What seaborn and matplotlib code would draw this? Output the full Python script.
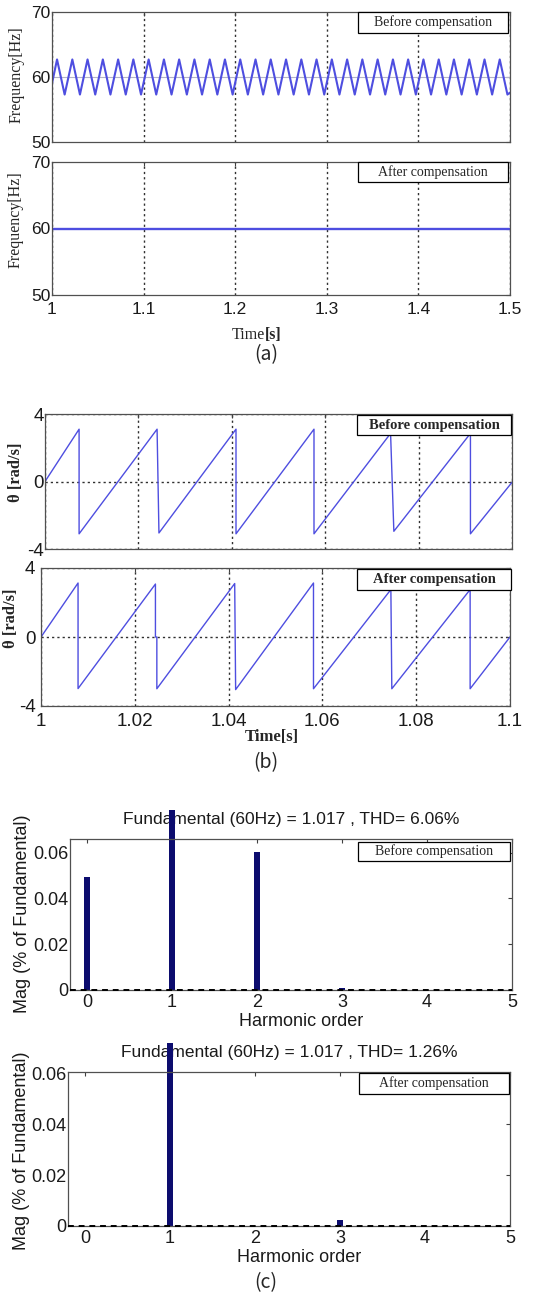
import matplotlib
matplotlib.use("Agg")
import matplotlib.pyplot as plt
import numpy as np
import seaborn as sns
from matplotlib.patches import Rectangle

# ---------------- data ----------------
# (a) frequency before compensation: times of successive maxima / minima
freq_peak_t = [1.0055, 1.0222, 1.0388, 1.0555, 1.0722, 1.0888, 1.1055, 1.1222,
               1.1388, 1.1555, 1.1722, 1.1888, 1.2055, 1.2222, 1.2388, 1.2555,
               1.2722, 1.2888, 1.3055, 1.3222, 1.3388, 1.3555, 1.3722, 1.3888,
               1.4055, 1.4222, 1.4388, 1.4555, 1.4722, 1.4888]
freq_trough_t = [1.0138, 1.0305, 1.0472, 1.0638, 1.0805, 1.0972, 1.1138, 1.1305,
                 1.1472, 1.1638, 1.1805, 1.1972, 1.2138, 1.2305, 1.2472, 1.2638,
                 1.2805, 1.2972, 1.3138, 1.3305, 1.3472, 1.3638, 1.3805, 1.3972,
                 1.4138, 1.4305, 1.4472, 1.4638, 1.4805, 1.4972]
freq_peak_hz = 62.7
freq_trough_hz = 57.3
freq_start = (1.0, 59.0)
freq_end = (1.5, 57.6)

# (a) frequency after compensation
freq_after_t = [1.0, 1.5]
freq_after_hz = [60.0, 60.0]

# (b) phase angle, vertices of the sawtooth
theta_before_t = [1.0, 1.0073, 1.0073, 1.0240, 1.0244, 1.0409, 1.0409, 1.0576,
                  1.0576, 1.0740, 1.0747, 1.0911, 1.0911, 1.1]
theta_before_v = [0.0, 3.1, -3.1, 3.1, -3.05, 3.1, -3.1, 3.1,
                  -3.1, 2.85, -2.95, 2.85, -3.1, -0.05]
theta_after_t = [1.0, 1.0079, 1.0079, 1.0244, 1.0244, 1.0247, 1.0247, 1.0413,
                 1.0415, 1.0581, 1.0581, 1.0746, 1.0748, 1.0915, 1.0915, 1.1]
theta_after_v = [0.0, 3.13, -2.99, 3.07, 0.0, 0.0, -3.0, 3.1,
                 -3.05, 3.13, -3.0, 2.75, -3.0, 2.75, -3.0, 0.0]

# (c) harmonic spectra
harm_order = [0, 1, 2, 3, 4, 5]
mag_before = [0.0494, 1.0, 0.0604, 0.0008, 0.0, 0.0]
mag_after = [0.0, 1.0, 0.0, 0.0025, 0.0, 0.0]
fund_mag = 1.017
thd_before = 6.06
thd_after = 1.26

freq_ticks = [50, 60, 70]
freq_xticks = [1.0, 1.1, 1.2, 1.3, 1.4, 1.5]
freq_xlabels = ["1", "1.1", "1.2", "1.3", "1.4", "1.5"]
theta_ticks = [-4, 0, 4]
theta_xticks = [1.0, 1.02, 1.04, 1.06, 1.08, 1.1]
theta_xlabels = ["1", "1.02", "1.04", "1.06", "1.08", "1.1"]
mag_ticks = [0, 0.02, 0.04, 0.06]
mag_labels = ["0", "0.02", "0.04", "0.06"]

# ---------------- style ----------------
sns.set_theme(style="white")
SANS = ["Liberation Sans", "DejaVu Sans"]
SERIF = ["Liberation Serif", "DejaVu Serif"]
plt.rcParams["font.family"] = SANS
plt.rcParams["axes.unicode_minus"] = False
plt.rcParams["axes.edgecolor"] = "#505050"
plt.rcParams["axes.linewidth"] = 0.9

W, H = 533, 1296
fig = plt.figure(figsize=(W / 100, H / 100), dpi=100)
fig.patch.set_facecolor("white")

LINE = "#4e4ee0"
BAR = "#0c0c6e"
GRID = dict(color="#303030", linestyle=(0, (1.6, 2.2)), linewidth=1.0)


def px_axes(left, top, right, bottom):
    return fig.add_axes([left / W, 1 - bottom / H, (right - left) / W, (bottom - top) / H])


def px_text(x, y, s, ha="center", **kw):
    fig.text(x / W, 1 - y / H, s, ha=ha, va="center", **kw)


def px_box(x0, y0, x1, y1, s, **kw):
    fig.add_artist(Rectangle((x0 / W, 1 - y1 / H), (x1 - x0) / W, (y1 - y0) / H,
                             transform=fig.transFigure, facecolor="white",
                             edgecolor="black", linewidth=0.9, zorder=5))
    fig.text((x0 + x1) / 2 / W, 1 - (y0 + y1) / 2 / H, s, ha="center", va="center",
             family=SERIF, zorder=6, **kw)


def style_axes(ax, labelsize):
    ax.set_facecolor("white")
    ax.tick_params(direction="in", top=True, right=True, length=3, width=0.8,
                   labelsize=labelsize, labelcolor="#1a1a1a", colors="#404040")
    for sp in ax.spines.values():
        sp.set_visible(True)
        sp.set_color("#505050")


# ---------------- (a) frequency ----------------
seq_t = [freq_start[0]]
seq_v = [freq_start[1]]
for tp, tt in zip(freq_peak_t, freq_trough_t):
    seq_t += [tp, tt]
    seq_v += [freq_peak_hz, freq_trough_hz]
seq_t.append(freq_end[0])
seq_v.append(freq_end[1])

a1 = px_axes(52, 12, 510, 142)
a1.axhline(60, color="#b4b4c8", linewidth=0.8, zorder=1)
sns.lineplot(x=seq_t, y=seq_v, ax=a1, color=LINE, linewidth=1.5, estimator=None,
             sort=False, solid_joinstyle="round")
a2 = px_axes(52, 162, 510, 295)
sns.lineplot(x=freq_after_t, y=freq_after_hz, ax=a2, color=LINE, linewidth=1.7,
             estimator=None, sort=False)
for ax in (a1, a2):
    style_axes(ax, 12.5)
    ax.set_xlim(1.0, 1.5)
    ax.set_ylim(50, 70)
    ax.set_yticks(freq_ticks)
    ax.set_xticks(freq_xticks)
    ax.grid(axis="x", **GRID)
    ax.set_xlabel("")
    ax.set_ylabel("")
    ax.tick_params(axis="y", pad=1)
a1.set_xticklabels([])
a2.set_xticklabels(freq_xlabels)
a2.tick_params(axis="x", pad=5)

px_text(17, 75, "Frequency[Hz]", rotation=90, fontsize=11.5, family=SERIF)
px_text(16, 220, "Frequency[Hz]", rotation=90, fontsize=11.5, family=SERIF)
px_box(358, 12, 508, 33, "Before compensation", fontsize=10)
px_box(358, 162, 508, 182, "After compensation", fontsize=10)
px_text(265, 335, "Time", ha="right", fontsize=11.5, family=SERIF)
px_text(265, 335, "[s]", ha="left", fontsize=11.5, family=SERIF, fontweight="bold")
px_text(266, 355, "(a)", fontsize=14, family=["Noto Sans CJK KR", "DejaVu Sans"])

# ---------------- (b) phase angle ----------------
b1 = px_axes(45, 414, 512, 549)
sns.lineplot(x=theta_before_t, y=theta_before_v, ax=b1, color=LINE, linewidth=1.0,
             estimator=None, sort=False)
b2 = px_axes(41, 568, 510, 706)
sns.lineplot(x=theta_after_t, y=theta_after_v, ax=b2, color=LINE, linewidth=1.0,
             estimator=None, sort=False)
for ax in (b1, b2):
    style_axes(ax, 13.5)
    ax.set_xlim(1.0, 1.1)
    ax.set_ylim(-4, 4)
    ax.set_yticks(theta_ticks)
    ax.set_xticks(theta_xticks)
    ax.grid(True, **GRID)
    ax.set_xlabel("")
    ax.set_ylabel("")
    ax.tick_params(axis="y", pad=1)
b1.set_xticklabels([])
b2.set_xticklabels(theta_xlabels)
b2.tick_params(axis="x", pad=5)
b2.tick_params(axis="y", pad=4)

px_text(16, 472, "θ [rad/s]", rotation=90, fontsize=12, family=SERIF, fontweight="bold")
px_text(11, 618, "θ [rad/s]", rotation=90, fontsize=12, family=SERIF, fontweight="bold")
px_box(357, 415, 511, 435, "Before compensation", fontsize=10.5, fontweight="bold")
px_box(357, 569, 511, 590, "After compensation", fontsize=10.5, fontweight="bold")
px_text(272, 737, "Time[s]", fontsize=12, family=SERIF, fontweight="bold")
px_text(266, 763, "(b)", fontsize=14, family=["Noto Sans CJK KR", "DejaVu Sans"])

# ---------------- (c) harmonic spectra ----------------
specs = [
    (70, 839, 512, 990, mag_before, 0.066, thd_before, 820, 1021, 914, 23,
     (358, 842, 510, 861), "Before compensation"),
    (68, 1072, 510, 1226, mag_after, 0.0605, thd_after, 1052, 1258, 1151, 22,
     (359, 1073, 509, 1094), "After compensation"),
]
for (l, t, r, b, mags, ytop, thd, ty, xly, yly, ylx, box, tag) in specs:
    ax = px_axes(l, t, r, b)
    sns.barplot(x=harm_order, y=mags, ax=ax, native_scale=True, width=0.06,
                color=BAR, errorbar=None, saturation=1, linewidth=0)
    style_axes(ax, 13)
    ax.set_xlim(-0.2, 5.0)
    ax.set_ylim(0, ytop)
    ax.set_xticks(harm_order)
    ax.set_xticklabels([str(h) for h in harm_order])
    ax.set_yticks(mag_ticks)
    ax.set_yticklabels(mag_labels)
    ax.set_xlabel("")
    ax.set_ylabel("")
    ax.tick_params(axis="y", pad=1)
    ax.tick_params(axis="x", pad=3)
    # the fundamental bar runs past the top of the frame into the title
    clip = Rectangle((0, 0), 1, 1.19, transform=ax.transAxes)
    for p in ax.patches:
        p.set_clip_path(clip)
    ax.axhline(0, color="black", linestyle=(0, (3, 2.5)), linewidth=1.4, zorder=4,
               clip_on=False)
    ax.text(0.5, 1 - (ty - t) / (b - t),
            f"Fundamental (60Hz) = {fund_mag:.3f} , THD= {thd:.2f}%",
            transform=ax.transAxes, ha="center", va="center", fontsize=12.5,
            color="#1a1a1a", zorder=0.5, clip_on=False)
    px_text((l + r) / 2 + 10, xly, "Harmonic order", fontsize=13, color="#1a1a1a")
    px_text(ylx, yly, "Mag (% of Fundamental)", rotation=90, fontsize=13, color="#1a1a1a")
    px_box(*box, tag, fontsize=10)
px_text(266, 1283, "(c)", fontsize=14, family=["Noto Sans CJK KR", "DejaVu Sans"])

fig.savefig("out.png", dpi=100, facecolor="white")
